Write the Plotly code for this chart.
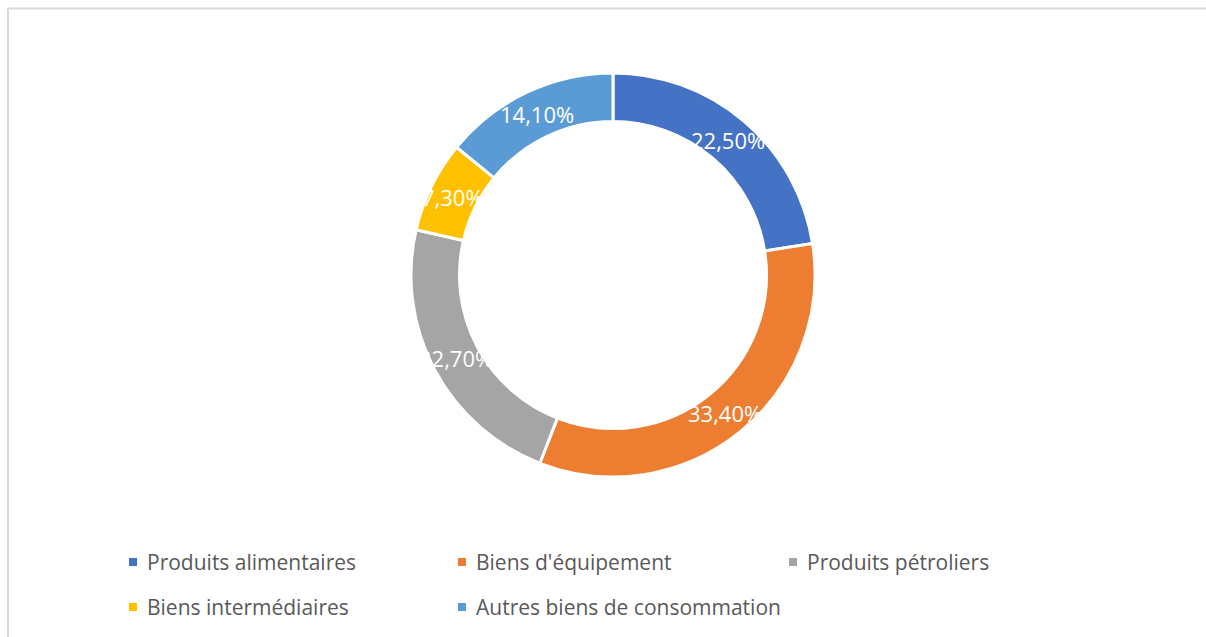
import math
import plotly.graph_objects as go

categories = ["Produits alimentaires", "Biens d'équipement", "Produits pétroliers",
              "Biens intermédiaires", "Autres biens de consommation"]
values = [22.5, 33.4, 22.7, 7.3, 14.1]
colors = ["#4472C4", "#ED7D31", "#A5A5A5", "#FFC000", "#5B9BD5"]
labels = [f"{v:.2f}%".replace(".", ",") for v in values]

W, H = 1206, 637
CX, CY = 613, 275      # donut centre (px)
R_OUT = 202            # outer radius (px)
HOLE = 0.76
R_MID = R_OUT * (1 + HOLE) / 2

fig = go.Figure()
fig.add_trace(go.Pie(
    labels=categories, values=values, sort=False, direction="clockwise", rotation=0,
    hole=HOLE, textinfo="none", showlegend=False, hoverinfo="label+percent",
    marker=dict(colors=colors, line=dict(color="white", width=3)),
    domain=dict(x=[(CX - R_OUT) / W, (CX + R_OUT) / W],
                y=[1 - (CY + R_OUT) / H, 1 - (CY - R_OUT) / H]),
))

# data labels at the middle of the ring
total = sum(values)
cum = 0
annotations = []
for v, lab in zip(values, labels):
    mid = (cum + v / 2) / total * 2 * math.pi
    cum += v
    px = CX + R_MID * math.sin(mid)
    py = CY - R_MID * math.cos(mid)
    annotations.append(dict(x=px / W, y=1 - py / H, xref="paper", yref="paper",
                            xanchor="center", yanchor="middle",
                            text=lab, showarrow=False,
                            font=dict(family="Open Sans", size=22, color="white")))

# legend (two rows, three columns)
shapes = []
col_x = [133, 462, 793]
row_y = [562, 607]
for i, (name, c) in enumerate(zip(categories, colors)):
    r, k = divmod(i, 3)
    mx, my = col_x[k], row_y[r]
    shapes.append(dict(type="rect", xref="paper", yref="paper",
                       xsizemode="pixel", ysizemode="pixel",
                       xanchor=mx / W, yanchor=1 - my / H,
                       x0=-4, x1=4, y0=-4, y1=4, fillcolor=c, line=dict(width=0)))
    annotations.append(dict(x=(mx + 12) / W, y=1 - my / H, xref="paper", yref="paper",
                            xanchor="left", yanchor="middle", text=name, showarrow=False,
                            font=dict(family="Open Sans", size=21, color="#595959")))

# chart-area border (top and left edges visible)
shapes.append(dict(type="line", xref="paper", yref="paper",
                   x0=8 / W, x1=1.0, y0=1 - 8.5 / H, y1=1 - 8.5 / H,
                   line=dict(color="#D9D9D9", width=2)))
shapes.append(dict(type="line", xref="paper", yref="paper",
                   x0=8 / W, x1=8 / W, y0=1 - 8.5 / H, y1=0,
                   line=dict(color="#D9D9D9", width=2)))

fig.update_layout(width=W, height=H, margin=dict(l=0, r=0, t=0, b=0),
                  paper_bgcolor="white", plot_bgcolor="white",
                  annotations=annotations, shapes=shapes)
fig.write_html("out.html", config={"displayModeBar": False},
               post_script="document.body.style.margin='0';document.body.style.overflow='hidden';")
